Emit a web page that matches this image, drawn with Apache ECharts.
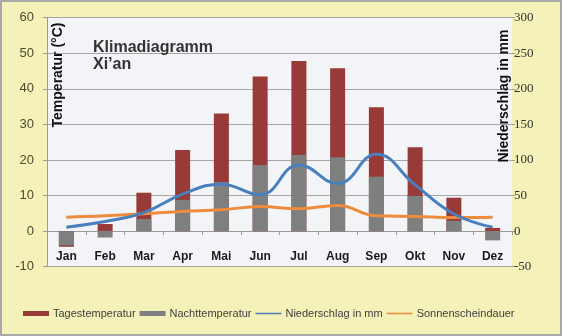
<!DOCTYPE html>
<html>
<head>
<meta charset="utf-8">
<script src="https://cdn.jsdelivr.net/npm/echarts@6/dist/echarts.min.js"></script>
<style>
  html, body { margin: 0; padding: 0; background: #f4f1b9; }
  #chart { width: 562px; height: 336px; }
</style>
</head>
<body>
<div id="chart"></div>
<script>
// Klimadiagramm Xi'an: Monatswerte
const months = ['Jan', 'Feb', 'Mar', 'Apr', 'Mai', 'Jun', 'Jul', 'Aug', 'Sep', 'Okt', 'Nov', 'Dez'];
const tagesTemp = [-4.4, 2.0, 10.8, 22.8, 33.1, 43.5, 47.8, 45.8, 34.8, 23.6, 9.4, 0.9];
const nachtTemp = [-4.0, -1.8, 3.4, 8.8, 13.8, 18.6, 21.4, 20.8, 15.3, 9.9, 2.9, -2.6];
const niederschlag = [5.6, 13.5, 26, 52, 66, 51, 93, 67, 108, 65, 24, 5.6];
const sonnenschein = [3.9, 4.3, 4.9, 5.5, 6.0, 6.9, 6.3, 7.2, 4.3, 4.1, 3.8, 3.9];

const tempTicks = { min: -10, max: 60, interval: 10 };
const rainTicks = { min: -50, max: 300, interval: 50 };

const colors = {
  day: '#973a38',
  night: '#7d807f',
  rain: '#4a7fbd',
  sun: '#ee8b3c'
};

// thin line legend symbol, padded to the full 26x5 icon box
const lineIcon = 'path://M0,0 L0.01,0 L0,0.01 Z M0,1.7 L26,1.7 L26,3.3 L0,3.3 Z M26,5 L25.99,5 L26,4.99 Z';

const gridTop = 17.7;
const gridBottom = 69.3;
const plotHeight = 336 - gridTop - gridBottom;
// category axis sits on the 0 °C line
const zeroShift = plotHeight * (0 - tempTicks.min) / (tempTicks.max - tempTicks.min);

const chart = echarts.init(document.getElementById('chart'), null, { renderer: 'canvas' });

const gridColor = '#a6a6a6';
const axisGray = '#9a9a9a';

chart.setOption({
  backgroundColor: '#f4f1b9',
  animation: false,
  title: {
    text: 'Klimadiagramm\nXi\u2019an',
    left: 93,
    top: 39,
    padding: 0,
    textStyle: {
      fontFamily: 'Liberation Sans, Arial, sans-serif',
      fontSize: 16,
      fontWeight: 'bold',
      color: '#333333',
      lineHeight: 17
    }
  },
  grid: {
    left: 47,
    right: 50,
    top: gridTop,
    bottom: gridBottom,
    show: true,
    backgroundColor: '#f3f4f7',
    borderWidth: 0
  },
  legend: {
    left: 18,
    top: 303,
    itemWidth: 26,
    itemHeight: 5,
    itemGap: 4,
    textStyle: {
      fontFamily: 'Liberation Sans, Arial, sans-serif',
      fontSize: 11,
      color: '#404040',
      padding: [0, 0, 0, -1]
    },
    data: [
      { name: 'Tagestemperatur', icon: 'rect', itemStyle: { color: colors.day } },
      { name: 'Nachttemperatur', icon: 'rect', itemStyle: { color: colors.night } },
      { name: 'Niederschlag in mm', icon: lineIcon, itemStyle: { color: colors.rain } },
      { name: 'Sonnenscheindauer', icon: lineIcon, itemStyle: { color: colors.sun } }
    ]
  },
  xAxis: {
    type: 'category',
    data: months,
    boundaryGap: true,
    offset: -zeroShift,
    axisLine: { show: true, onZero: false, lineStyle: { color: axisGray, width: 1 } },
    axisTick: { show: true, length: 4, lineStyle: { color: axisGray } },
    axisLabel: {
      margin: 20,
      fontFamily: 'Liberation Sans, Arial, sans-serif',
      fontSize: 12,
      fontWeight: 'bold',
      color: '#1a1a1a'
    },
    splitLine: { show: false }
  },
  yAxis: [
    {
      type: 'value',
      min: tempTicks.min,
      max: tempTicks.max,
      interval: tempTicks.interval,
      axisLine: { show: true, onZero: false, lineStyle: { color: axisGray } },
      axisTick: { show: true, length: 4, lineStyle: { color: axisGray } },
      axisLabel: {
        margin: 13,
        fontFamily: 'Liberation Sans, Arial, sans-serif',
        fontSize: 13,
        color: '#4d4a2e'
      },
      splitLine: { show: true, lineStyle: { color: gridColor, width: 1 } }
    },
    {
      type: 'value',
      position: 'right',
      min: rainTicks.min,
      max: rainTicks.max,
      interval: rainTicks.interval,
      axisLine: { show: false, onZero: false },
      axisTick: { show: true, length: 3, lineStyle: { color: axisGray } },
      axisLabel: {
        margin: 2,
        fontFamily: 'Liberation Serif, Times New Roman, serif',
        fontSize: 13,
        color: '#333333'
      },
      splitLine: { show: false }
    }
  ],
  series: [
    {
      name: 'Tagestemperatur',
      type: 'bar',
      yAxisIndex: 0,
      data: tagesTemp,
      barWidth: 15,
      barGap: '-100%',
      itemStyle: { color: colors.day },
      z: 2
    },
    {
      name: 'Nachttemperatur',
      type: 'bar',
      yAxisIndex: 0,
      data: nachtTemp,
      barWidth: 15,
      barGap: '-100%',
      itemStyle: { color: colors.night },
      z: 3
    },
    {
      name: 'Niederschlag in mm',
      type: 'line',
      yAxisIndex: 1,
      data: niederschlag,
      smooth: 0.45,
      symbol: 'none',
      showSymbol: false,
      lineStyle: { color: colors.rain, width: 3 },
      itemStyle: { color: colors.rain },
      z: 5
    },
    {
      name: 'Sonnenscheindauer',
      type: 'line',
      yAxisIndex: 0,
      data: sonnenschein,
      smooth: 0.45,
      symbol: 'none',
      showSymbol: false,
      lineStyle: { color: colors.sun, width: 3 },
      itemStyle: { color: colors.sun },
      z: 4
    }
  ],
  graphic: [
    {
      type: 'text',
      x: 58,
      y: 75,
      rotation: Math.PI / 2,
      style: {
        text: 'Temperatur (°C)',
        fontFamily: 'Liberation Sans, Arial, sans-serif',
        fontSize: 14,
        fontWeight: 'bold',
        fill: '#111111',
        align: 'center',
        verticalAlign: 'middle'
      },
      z: 10
    },
    {
      type: 'text',
      x: 504,
      y: 96,
      rotation: Math.PI / 2,
      style: {
        text: 'Niederschlag in mm',
        fontFamily: 'Liberation Sans, Arial, sans-serif',
        fontSize: 14,
        fontWeight: 'bold',
        fill: '#111111',
        align: 'center',
        verticalAlign: 'middle'
      },
      z: 10
    },
    {
      type: 'rect',
      shape: { x: 1, y: 1, width: 560, height: 334 },
      style: { fill: 'none', stroke: '#a9a9a9', lineWidth: 2 },
      z: 20
    }
  ]
});
</script>
</body>
</html>
